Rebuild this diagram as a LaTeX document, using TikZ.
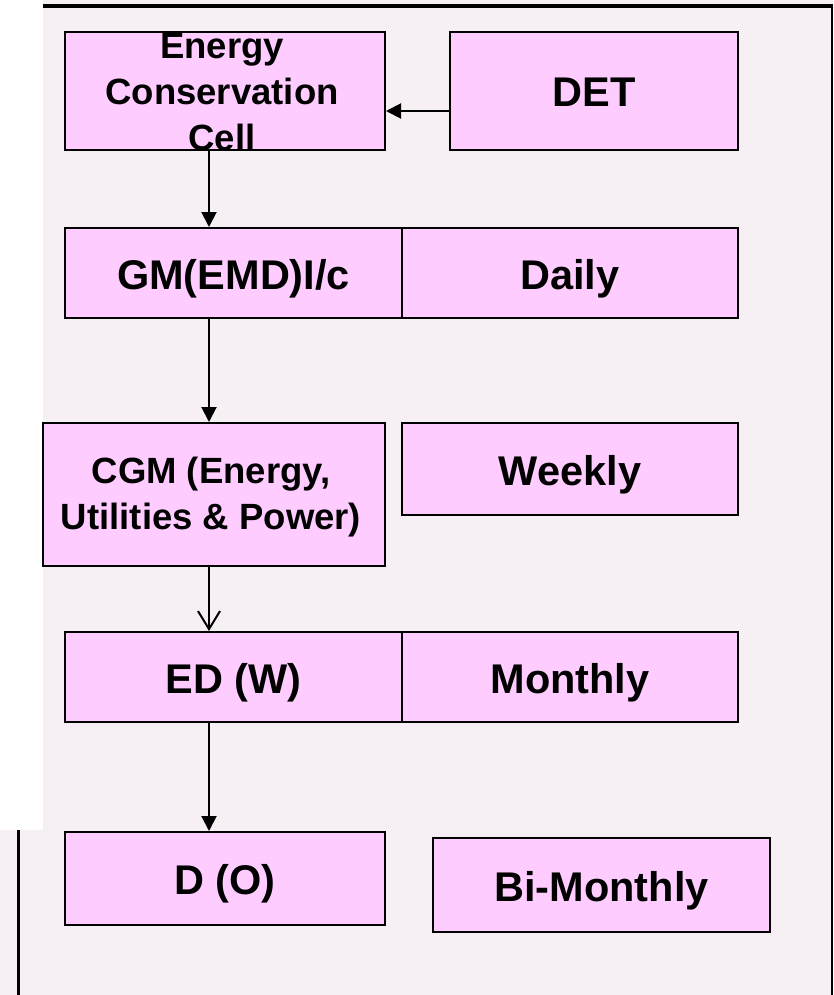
\documentclass[tikz,border=0pt]{standalone}
\usepackage{fontspec}
\setmainfont{Liberation Sans}
\usetikzlibrary{arrows.meta}
\definecolor{bgc}{RGB}{246,240,244}
\definecolor{boxc}{RGB}{255,204,255}
\tikzset{
  boxn/.style={draw=black, line width=2pt, fill=boxc, rectangle, inner sep=0pt,
    font=\fontsize{41.5}{46}\selectfont\bfseries, text height=32pt, text depth=0pt},
  smalltxt/.style={font=\fontsize{36.5}{46}\selectfont\bfseries, align=center, inner sep=0pt},
  arr/.style={line width=2pt, -{Triangle[length=15pt,width=15pt]}},
  arro/.style={line width=2pt, -{Straight Barb[length=18pt,width=22pt,line width=2pt]}}
}
\begin{document}
\begin{tikzpicture}[x=1pt,y=-1pt]
\useasboundingbox (0,0) rectangle (833,995);
\fill[white] (0,0) rectangle (833,995);
\fill[bgc] (43,0) rectangle (833,995);
\fill[bgc] (0,830) rectangle (43,995);
\draw[line width=4pt] (43,6) -- (833,6);
\draw[line width=2pt] (832,5) -- (832,995);
\draw[line width=3pt] (18.5,830) -- (18.5,995);
\coordinate (axis) at (209,0);
% boxes
\node[boxn, minimum width=320pt, minimum height=118pt] (ecc) at (225,91) {};
\node[boxn, minimum width=288pt, minimum height=118pt] (det) at (594,91) {DET};
\node[boxn, minimum width=337pt, minimum height=90pt] (gm) at (233.5,273) {GM(EMD)I/c};
\node[boxn, minimum width=336pt, minimum height=90pt] (daily) at (570,273) {Daily};
\node[boxn, minimum width=342pt, minimum height=143pt] (cgm) at (214,494.5) {};
\node[boxn, minimum width=336pt, minimum height=92pt] (weekly) at (570,469) {Weekly};
\node[boxn, minimum width=337pt, minimum height=90pt] (ed) at (233.5,677) {ED (W)};
\node[boxn, minimum width=336pt, minimum height=90pt] (monthly) at (570,677) {Monthly};
\node[boxn, minimum width=320pt, minimum height=93pt] (dO) at (225,878.5) {D (O)};
\node[boxn, minimum width=337pt, minimum height=94pt] (bim) at (601.5,885) {Bi-Monthly};
% connectors
\draw[arr] ([yshift=-20pt]det.west) -- ([yshift=-20pt]ecc.east);
\draw[arr] (ecc.south -| axis) -- (gm.north -| axis);
\draw[arr] (gm.south -| axis) -- (cgm.north -| axis);
\draw[arro] (cgm.south -| axis) -- (ed.north -| axis);
\draw[arr] (ed.south -| axis) -- (dO.north -| axis);
% texts
\node[smalltxt] (ecctext) at (222,92) {Energy\\Conservation\\Cell};
\node[smalltxt] (cgmtext) at (211,497) {CGM (Energy,\\Utilities \& Power)};
\end{tikzpicture}
\end{document}
